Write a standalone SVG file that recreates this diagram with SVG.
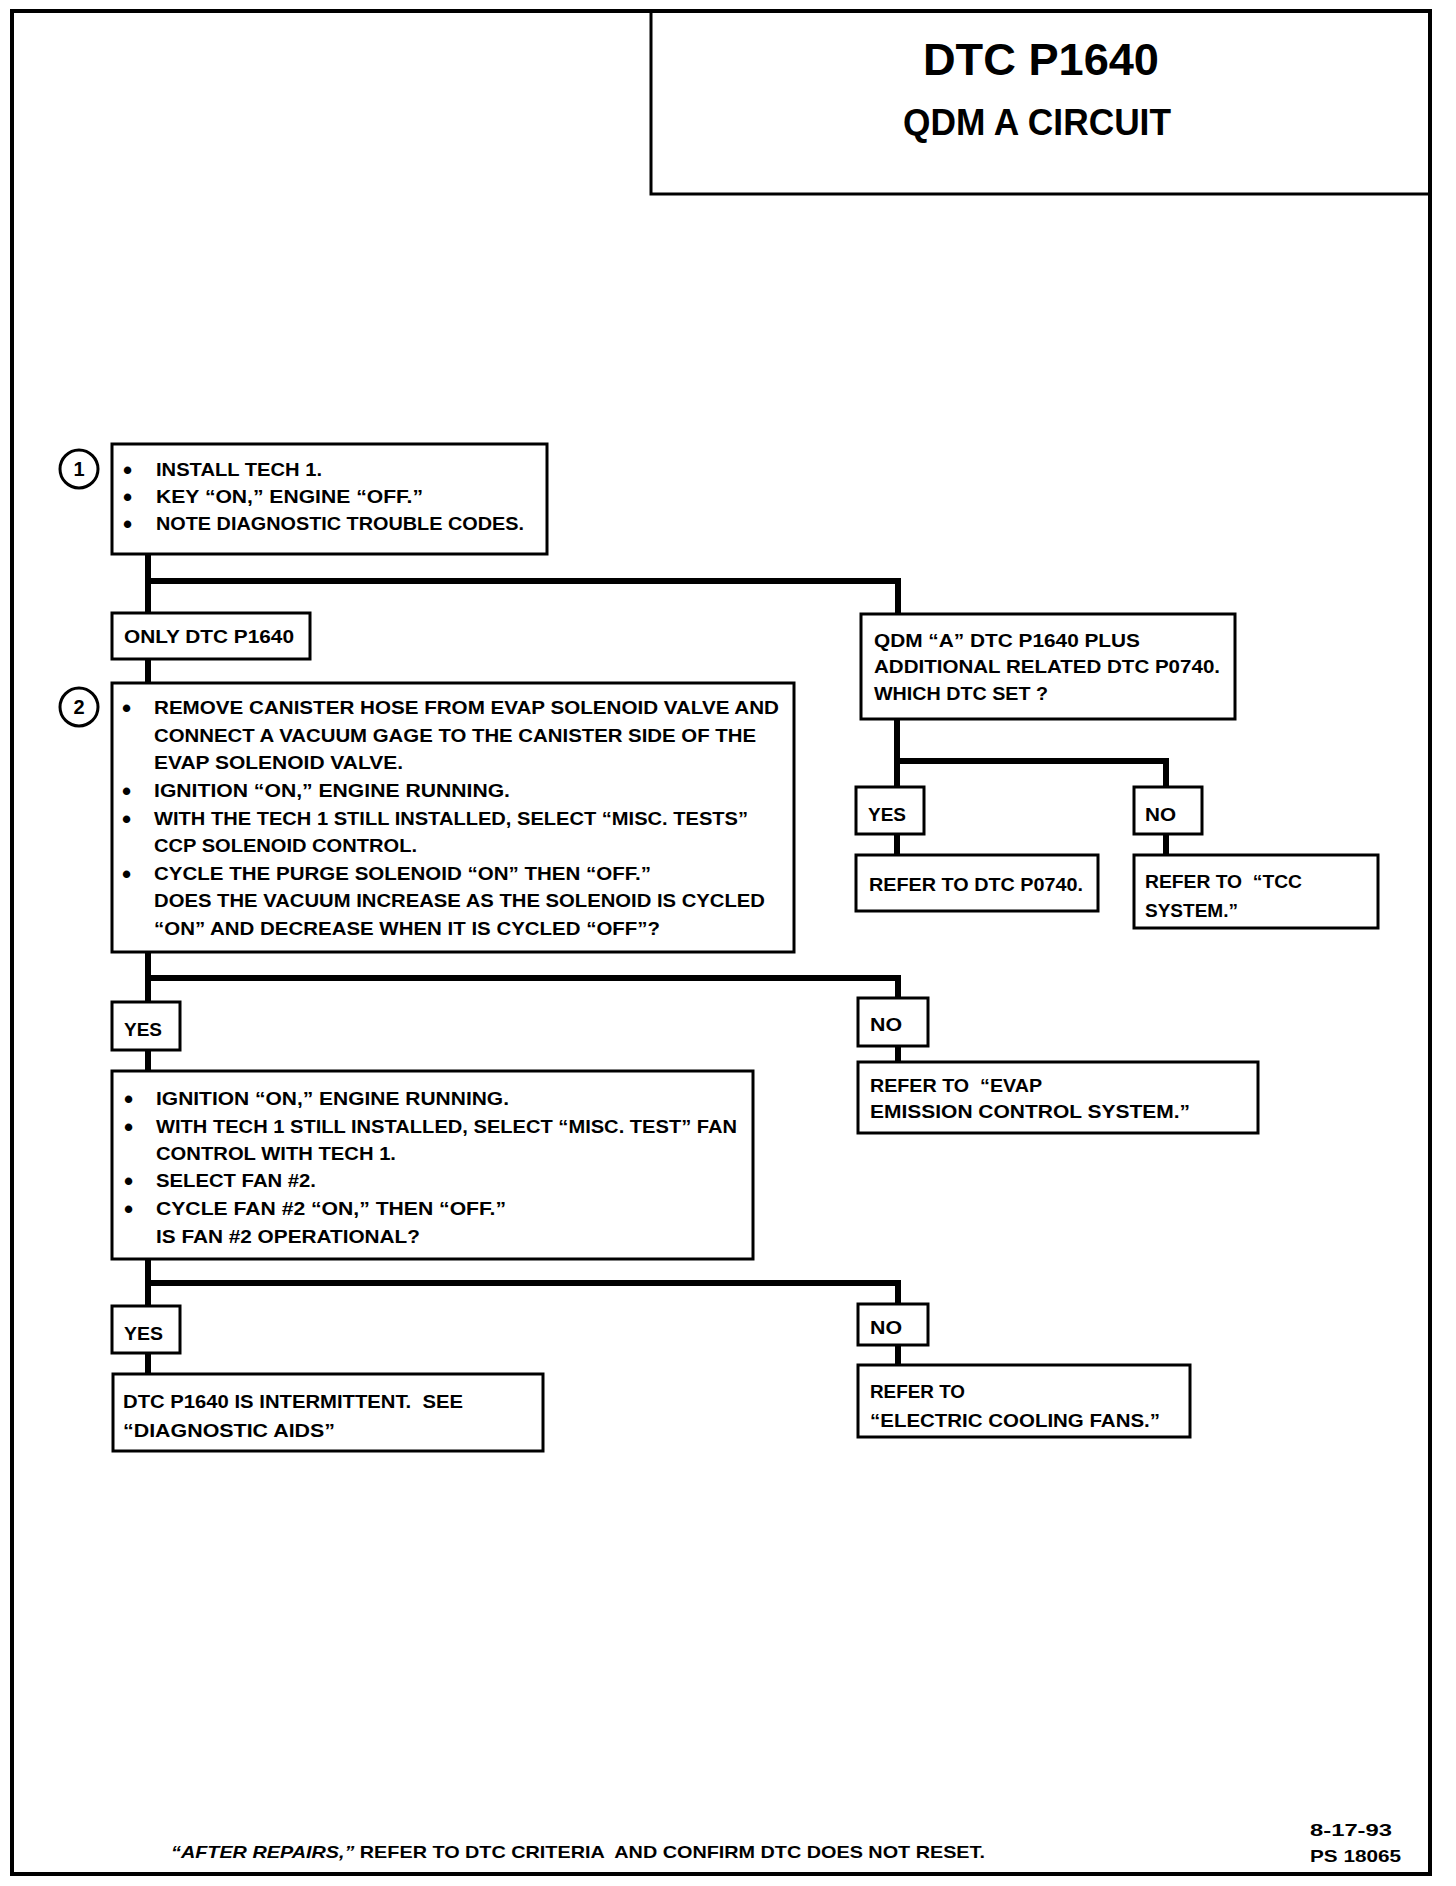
<svg xmlns="http://www.w3.org/2000/svg" width="1456" height="1886" viewBox="0 0 1456 1886">
<style>
.t{font-family:"Liberation Sans",Arial,sans-serif;font-weight:bold;font-size:18px;fill:#000}
.b{font-family:"Liberation Sans",Arial,sans-serif;font-weight:bold;font-size:26px;fill:#000}
.box{fill:#fff;stroke:#000;stroke-width:3}
.conn{fill:none;stroke:#000;stroke-width:6;stroke-linecap:square;stroke-linejoin:miter}
.circ{fill:#fff;stroke:#000;stroke-width:3}
</style>
<rect width="1456" height="1886" fill="#fff"/>
<g id="frame">
<rect x="12" y="11" width="1418" height="1863" fill="none" stroke="#000" stroke-width="4"/>
</g>
<g id="title">
<rect x="651" y="11" width="779" height="183" fill="none" stroke="#000" stroke-width="3"/>
<text x="923" y="75" class="t" style="font-size:44px" textLength="236" lengthAdjust="spacingAndGlyphs">DTC P1640</text>
<text x="903" y="135" class="t" style="font-size:37px" textLength="268" lengthAdjust="spacingAndGlyphs">QDM A CIRCUIT</text>
</g>
<g id="connectors">
<polyline class="conn" points="148,554 148,611"/>
<polyline class="conn" points="148,581 898,581 898,613"/>
<polyline class="conn" points="148,659 148,683"/>
<polyline class="conn" points="897,719 897,787"/>
<polyline class="conn" points="897,761 1166,761 1166,787"/>
<polyline class="conn" points="897,834 897,855"/>
<polyline class="conn" points="1166,834 1166,855"/>
<polyline class="conn" points="148,952 148,1001"/>
<polyline class="conn" points="148,978 898,978 898,998"/>
<polyline class="conn" points="148,1050 148,1071"/>
<polyline class="conn" points="898,1046 898,1062"/>
<polyline class="conn" points="148,1259 148,1306"/>
<polyline class="conn" points="148,1283 898,1283 898,1304"/>
<polyline class="conn" points="148,1353 148,1374"/>
<polyline class="conn" points="898,1345 898,1365"/>
</g>
<g id="step1">
<circle class="circ" cx="79" cy="469" r="19"/>
<text x="79" y="476" class="t" style="font-size:20px" text-anchor="middle">1</text>
<rect class="box" x="112" y="444" width="435" height="110"/>
<text x="123" y="478.5" class="b">•</text>
<text x="156" y="476" class="t" textLength="166" lengthAdjust="spacingAndGlyphs">INSTALL TECH 1.</text>
<text x="123" y="505.5" class="b">•</text>
<text x="156" y="503" class="t" textLength="267" lengthAdjust="spacingAndGlyphs">KEY “ON,” ENGINE “OFF.”</text>
<text x="123" y="532.5" class="b">•</text>
<text x="156" y="530" class="t" textLength="368" lengthAdjust="spacingAndGlyphs">NOTE DIAGNOSTIC TROUBLE CODES.</text>
</g>
<g id="only">
<rect class="box" x="112" y="613" width="198" height="46"/>
<text x="124" y="643" class="t" textLength="170" lengthAdjust="spacingAndGlyphs">ONLY DTC P1640</text>
</g>
<g id="qdm">
<rect class="box" x="861" y="614" width="374" height="105"/>
<text x="874" y="647" class="t" textLength="266" lengthAdjust="spacingAndGlyphs">QDM “A” DTC P1640 PLUS</text>
<text x="874" y="673" class="t" textLength="346" lengthAdjust="spacingAndGlyphs">ADDITIONAL RELATED DTC P0740.</text>
<text x="874" y="700" class="t" textLength="174" lengthAdjust="spacingAndGlyphs">WHICH DTC SET ?</text>
</g>
<g id="yes1">
<rect class="box" x="856" y="787" width="68" height="47"/>
<text x="868" y="821" class="t" textLength="38" lengthAdjust="spacingAndGlyphs">YES</text>
</g>
<g id="no1">
<rect class="box" x="1134" y="787" width="68" height="47"/>
<text x="1145" y="821" class="t" textLength="31" lengthAdjust="spacingAndGlyphs">NO</text>
</g>
<g id="refer-p0740">
<rect class="box" x="856" y="855" width="242" height="56"/>
<text x="869" y="891" class="t" textLength="214" lengthAdjust="spacingAndGlyphs">REFER TO DTC P0740.</text>
</g>
<g id="refer-tcc">
<rect class="box" x="1134" y="855" width="244" height="73"/>
<text x="1145" y="888" class="t" xml:space="preserve" textLength="157" lengthAdjust="spacingAndGlyphs">REFER TO  “TCC</text>
<text x="1145" y="917" class="t" textLength="93" lengthAdjust="spacingAndGlyphs">SYSTEM.”</text>
</g>
<g id="step2">
<circle class="circ" cx="79" cy="707" r="19"/>
<text x="79" y="714" class="t" style="font-size:20px" text-anchor="middle">2</text>
<rect class="box" x="112" y="683" width="682" height="269"/>
<text x="122" y="716.5" class="b">•</text>
<text x="154" y="714" class="t" textLength="625" lengthAdjust="spacingAndGlyphs">REMOVE CANISTER HOSE FROM EVAP SOLENOID VALVE AND</text>
<text x="154" y="742" class="t" textLength="602" lengthAdjust="spacingAndGlyphs">CONNECT A VACUUM GAGE TO THE CANISTER SIDE OF THE</text>
<text x="154" y="769" class="t" textLength="249" lengthAdjust="spacingAndGlyphs">EVAP SOLENOID VALVE.</text>
<text x="122" y="799.5" class="b">•</text>
<text x="154" y="797" class="t" textLength="356" lengthAdjust="spacingAndGlyphs">IGNITION “ON,” ENGINE RUNNING.</text>
<text x="122" y="827.5" class="b">•</text>
<text x="154" y="825" class="t" textLength="594" lengthAdjust="spacingAndGlyphs">WITH THE TECH 1 STILL INSTALLED, SELECT “MISC. TESTS”</text>
<text x="154" y="852" class="t" textLength="263" lengthAdjust="spacingAndGlyphs">CCP SOLENOID CONTROL.</text>
<text x="122" y="882.5" class="b">•</text>
<text x="154" y="880" class="t" textLength="497" lengthAdjust="spacingAndGlyphs">CYCLE THE PURGE SOLENOID “ON” THEN “OFF.”</text>
<text x="154" y="907" class="t" textLength="611" lengthAdjust="spacingAndGlyphs">DOES THE VACUUM INCREASE AS THE SOLENOID IS CYCLED</text>
<text x="154" y="935" class="t" textLength="506" lengthAdjust="spacingAndGlyphs">“ON” AND DECREASE WHEN IT IS CYCLED “OFF”?</text>
</g>
<g id="yes2">
<rect class="box" x="112" y="1002" width="68" height="48"/>
<text x="124" y="1036" class="t" textLength="38" lengthAdjust="spacingAndGlyphs">YES</text>
</g>
<g id="no2">
<rect class="box" x="858" y="998" width="70" height="48"/>
<text x="870" y="1031" class="t" textLength="32" lengthAdjust="spacingAndGlyphs">NO</text>
</g>
<g id="refer-evap">
<rect class="box" x="858" y="1062" width="400" height="71"/>
<text x="870" y="1092" class="t" xml:space="preserve" textLength="172" lengthAdjust="spacingAndGlyphs">REFER TO  “EVAP</text>
<text x="870" y="1118" class="t" textLength="320" lengthAdjust="spacingAndGlyphs">EMISSION CONTROL SYSTEM.”</text>
</g>
<g id="step3">
<rect class="box" x="112" y="1071" width="641" height="188"/>
<text x="124" y="1107.5" class="b">•</text>
<text x="156" y="1105" class="t" textLength="353" lengthAdjust="spacingAndGlyphs">IGNITION “ON,” ENGINE RUNNING.</text>
<text x="124" y="1135.5" class="b">•</text>
<text x="156" y="1133" class="t" textLength="581" lengthAdjust="spacingAndGlyphs">WITH TECH 1 STILL INSTALLED, SELECT “MISC. TEST” FAN</text>
<text x="156" y="1160" class="t" textLength="240" lengthAdjust="spacingAndGlyphs">CONTROL WITH TECH 1.</text>
<text x="124" y="1189.5" class="b">•</text>
<text x="156" y="1187" class="t" textLength="160" lengthAdjust="spacingAndGlyphs">SELECT FAN #2.</text>
<text x="124" y="1217.5" class="b">•</text>
<text x="156" y="1215" class="t" textLength="350" lengthAdjust="spacingAndGlyphs">CYCLE FAN #2 “ON,” THEN “OFF.”</text>
<text x="156" y="1243" class="t" textLength="264" lengthAdjust="spacingAndGlyphs">IS FAN #2 OPERATIONAL?</text>
</g>
<g id="yes3">
<rect class="box" x="112" y="1306" width="68" height="47"/>
<text x="124" y="1340" class="t" textLength="39" lengthAdjust="spacingAndGlyphs">YES</text>
</g>
<g id="no3">
<rect class="box" x="858" y="1304" width="70" height="41"/>
<text x="870" y="1334" class="t" textLength="32" lengthAdjust="spacingAndGlyphs">NO</text>
</g>
<g id="intermittent">
<rect class="box" x="113" y="1374" width="430" height="77"/>
<text x="123" y="1408" class="t" xml:space="preserve" textLength="340" lengthAdjust="spacingAndGlyphs">DTC P1640 IS INTERMITTENT.  SEE</text>
<text x="123" y="1437" class="t" textLength="212" lengthAdjust="spacingAndGlyphs">“DIAGNOSTIC AIDS”</text>
</g>
<g id="refer-fans">
<rect class="box" x="858" y="1365" width="332" height="72"/>
<text x="870" y="1398" class="t" textLength="95" lengthAdjust="spacingAndGlyphs">REFER TO</text>
<text x="870" y="1427" class="t" textLength="290" lengthAdjust="spacingAndGlyphs">“ELECTRIC COOLING FANS.”</text>
</g>
<g id="footer">
<text x="171" y="1858" class="t" xml:space="preserve" style="font-size:17px" textLength="814" lengthAdjust="spacingAndGlyphs"><tspan font-style="italic">“AFTER REPAIRS,”</tspan> REFER TO DTC CRITERIA  AND CONFIRM DTC DOES NOT RESET.</text>
<text x="1310" y="1836" class="t" style="font-size:17px" textLength="82" lengthAdjust="spacingAndGlyphs">8-17-93</text>
<text x="1310" y="1862" class="t" style="font-size:17px" textLength="91" lengthAdjust="spacingAndGlyphs">PS 18065</text>
</g>
</svg>
